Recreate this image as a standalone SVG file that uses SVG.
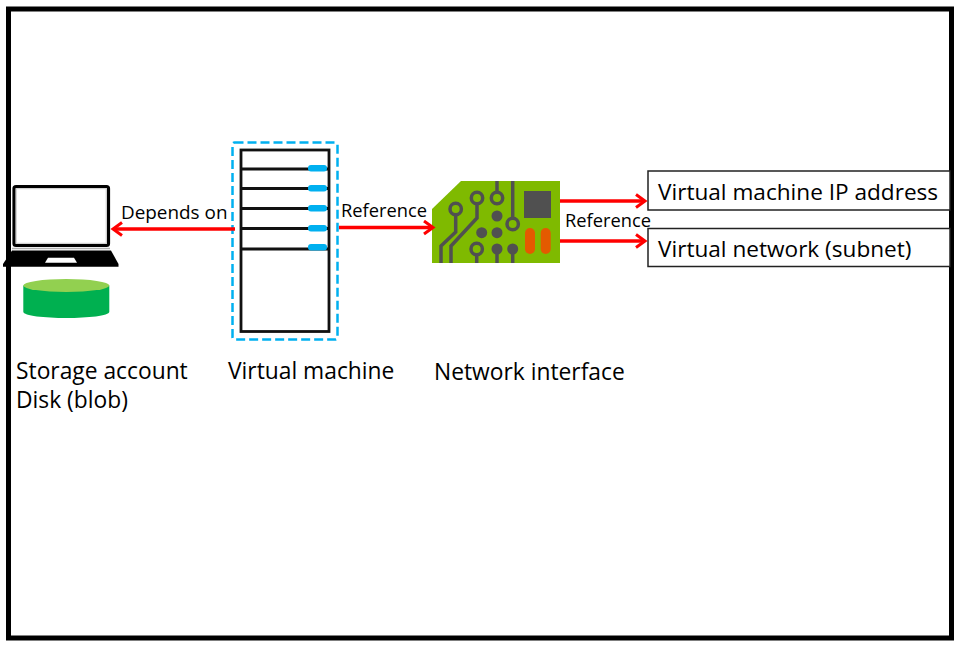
<svg xmlns="http://www.w3.org/2000/svg" width="960" height="645" viewBox="0 0 960 645">
<defs>
<marker id="ah" markerUnits="userSpaceOnUse" markerWidth="16" markerHeight="16" refX="13" refY="8" orient="auto"><path d="M4 1.500 L13 8 L4 14.500" fill="none" stroke="#ff0000" stroke-width="3"/></marker>
</defs>
<style>
text{font-family:"Open Sans","Noto Sans","Liberation Sans",sans-serif;fill:#000}
.big{font-size:22.800px}
.mid{font-size:22.600px}
.sm{font-size:18.300px}
.dep{font-size:18.900px}
.con{stroke:#ff0000;stroke-width:3.500;fill:none;marker-end:url(#ah)}
.trace{stroke:#505050;stroke-width:3.500;fill:none}
.dot{fill:#505050}
.ring{fill:none;stroke:#505050;stroke-width:3.500}
.shelf{stroke:#111;stroke-width:2.800}
.led{fill:#00b0f0}
</style>
<rect width="960" height="645" fill="#fff"/>
<rect x="8.500" y="9" width="943" height="629" fill="#fff" stroke="#000" stroke-width="5"/>
<g id="storage">
<rect x="14" y="186.500" width="94.500" height="59" rx="2" fill="#fff" stroke="#000" stroke-width="3.200"/>
<rect x="16.200" y="188.700" width="90" height="54.600" fill="none" stroke="#c8c8c8" stroke-width="1"/>
<line x1="12" y1="248.500" x2="110" y2="248.500" stroke="#b0b0b0" stroke-width="1.500"/>
<path d="M12 250.500 H111 L118.500 264 V266.700 H3 V264 Z" fill="#000"/>
<path d="M48 257.700 H74 L77 262.700 H45 Z" fill="#fff"/>
<path d="M23.300 285.500 V311.700 C23.300 320 109.300 320 109.300 311.700 V285.500 Z" fill="#00b050"/>
<ellipse cx="66.300" cy="285.500" rx="43" ry="6.500" fill="#92d050"/>
<text class="big" x="16" y="379">Storage account</text>
<text class="big" x="16" y="408">Disk (blob)</text>
</g>
<g id="vm">
<rect x="232.500" y="142.500" width="105" height="197" rx="2" fill="#fff" stroke="#00b0f0" stroke-width="2.500" stroke-dasharray="9 4"/>
<rect x="241" y="150" width="88" height="181.500" fill="#fff" stroke="#111" stroke-width="2.800"/>
<line class="shelf" x1="241" y1="169" x2="329" y2="169"/>
<line class="shelf" x1="241" y1="188.500" x2="329" y2="188.500"/>
<line class="shelf" x1="241" y1="208.500" x2="329" y2="208.500"/>
<line class="shelf" x1="241" y1="228.500" x2="329" y2="228.500"/>
<line class="shelf" x1="241" y1="249" x2="329" y2="249"/>
<rect class="led" x="308" y="165" width="19" height="6.500" rx="3"/>
<rect class="led" x="308" y="185" width="19" height="6.500" rx="3"/>
<rect class="led" x="308" y="205" width="19" height="6.500" rx="3"/>
<rect class="led" x="308" y="225" width="19" height="6.500" rx="3"/>
<rect class="led" x="308" y="244" width="19" height="6.500" rx="3"/>
<text class="big" x="228" y="379">Virtual machine</text>
</g>
<g id="nic">
<path d="M461 181 H560 V263 H432 V209 Z" fill="#7fba00"/>
<circle class="ring" cx="455.700" cy="209" r="5.700"/>
<path class="trace" d="M455.700 215 V232 L441 246 V263"/>
<circle class="ring" cx="477" cy="198" r="5.700"/>
<path class="trace" d="M477 204 V218 L451 246 V263"/>
<circle class="ring" cx="497" cy="198" r="5.700"/>
<line class="trace" x1="497" y1="181" x2="497" y2="192"/>
<circle class="ring" cx="512.700" cy="224" r="5.700"/>
<line class="trace" x1="512.700" y1="181" x2="512.700" y2="218"/>
<circle class="ring" cx="476.700" cy="249" r="5.700"/>
<line class="trace" x1="476.700" y1="255" x2="476.700" y2="263"/>
<circle class="dot" cx="497" cy="216" r="5.500"/>
<circle class="dot" cx="497" cy="232.700" r="5.500"/>
<circle class="dot" cx="481.700" cy="232.700" r="5.500"/>
<circle class="dot" cx="497" cy="249" r="5.500"/>
<circle class="dot" cx="512.700" cy="249" r="5.500"/>
<line class="trace" x1="497" y1="250" x2="497" y2="263"/>
<line class="trace" x1="512.700" y1="250" x2="512.700" y2="263"/>
<rect x="524" y="191" width="27" height="27" fill="#505050"/>
<rect x="525" y="228" width="10" height="26" rx="5" fill="#e45a00"/>
<rect x="540.700" y="228" width="10" height="26" rx="5" fill="#e45a00"/>
<text class="big" x="434" y="380">Network interface</text>
</g>
<g id="ip">
<rect x="648" y="171" width="302" height="39" fill="#fff" stroke="#222" stroke-width="1.500"/>
<text class="mid" x="658" y="200">Virtual machine IP address</text>
</g>
<g id="subnet">
<rect x="648" y="228.500" width="302" height="38" fill="#fff" stroke="#222" stroke-width="1.500"/>
<text class="mid" x="658" y="257">Virtual network (subnet)</text>
</g>
<g id="connectors">
<line class="con" x1="235" y1="229" x2="113" y2="229"/>
<line class="con" x1="339" y1="227.500" x2="433" y2="227.500"/>
<line class="con" x1="560" y1="201" x2="645" y2="201"/>
<line class="con" x1="560" y1="241" x2="645" y2="241"/>
</g>
<g id="labels">
<text class="dep" x="121" y="219">Depends on</text>
<text class="sm" x="341" y="217">Reference</text>
<text class="sm" x="565" y="226.500">Reference</text>
</g>
</svg>
